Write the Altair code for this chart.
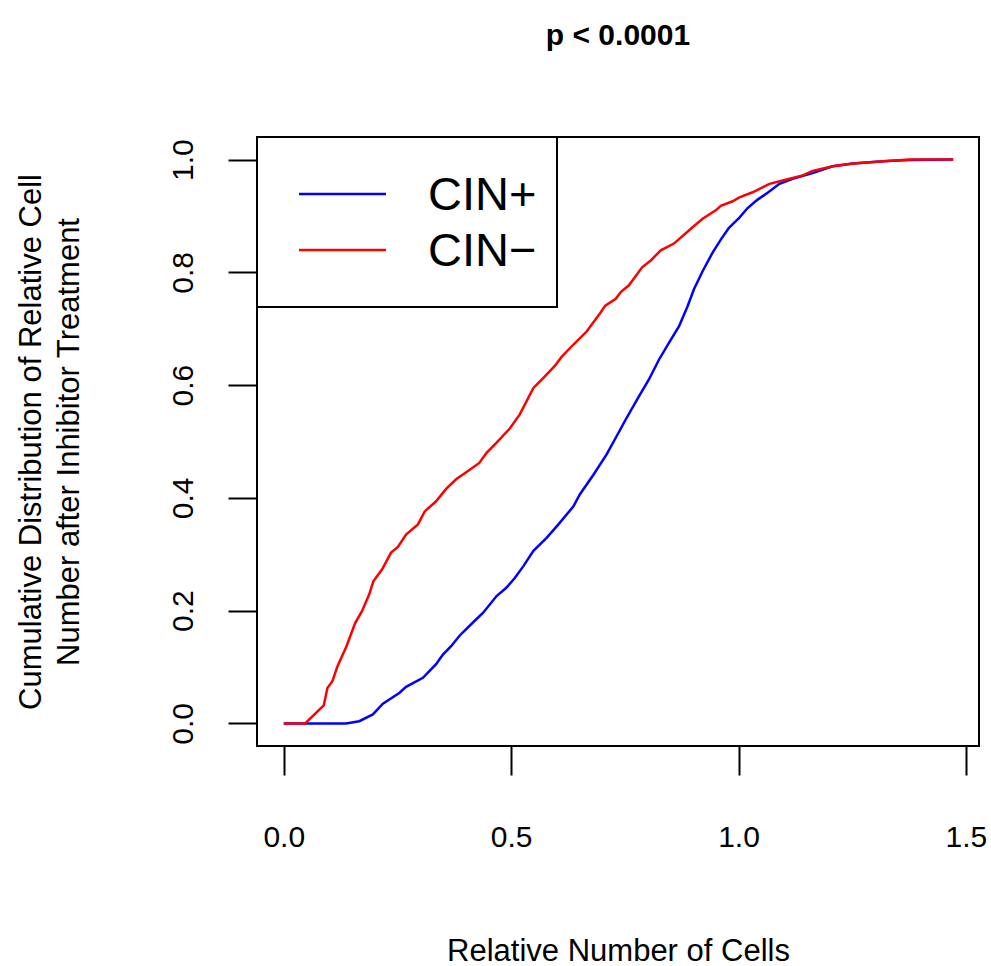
import altair as alt
import pandas as pd

# ---- data ----
series_names = ["CIN+", "CIN\u2212"]
series_colors = ["#0000FF", "#FF0000"]

cin_pos_x = [0.0, 0.137, 0.166, 0.196, 0.218, 0.254, 0.269, 0.306, 0.335, 0.350, 0.368, 0.387,
             0.416, 0.438, 0.468, 0.490, 0.508, 0.527, 0.549, 0.578, 0.604, 0.637, 0.651, 0.681,
             0.710, 0.731, 0.752, 0.781, 0.803, 0.825, 0.847, 0.869, 0.888, 0.902, 0.921, 0.943,
             0.961, 0.979, 1.002, 1.020, 1.042, 1.064, 1.090, 1.119, 1.163, 1.207, 1.252, 1.318,
             1.377, 1.472]
cin_pos_y = [0.0, 0.0, 0.004, 0.016, 0.035, 0.054, 0.065, 0.081, 0.105, 0.122, 0.137, 0.156,
             0.179, 0.196, 0.226, 0.241, 0.258, 0.279, 0.306, 0.329, 0.353, 0.385, 0.406, 0.441,
             0.477, 0.508, 0.539, 0.580, 0.610, 0.645, 0.675, 0.704, 0.740, 0.770, 0.802, 0.835,
             0.858, 0.879, 0.897, 0.914, 0.929, 0.941, 0.957, 0.966, 0.976, 0.988, 0.993, 0.997,
             0.999, 1.0]

cin_neg_x = [0.0, 0.047, 0.088, 0.096, 0.107, 0.118, 0.138, 0.157, 0.172, 0.188, 0.197, 0.216,
             0.236, 0.251, 0.269, 0.295, 0.310, 0.335, 0.357, 0.379, 0.409, 0.430, 0.446, 0.468,
             0.497, 0.519, 0.549, 0.571, 0.596, 0.611, 0.637, 0.666, 0.696, 0.707, 0.730, 0.741,
             0.759, 0.770, 0.788, 0.807, 0.829, 0.858, 0.899, 0.921, 0.950, 0.961, 0.987, 1.002,
             1.031, 1.068, 1.097, 1.141, 1.163, 1.207, 1.252, 1.318, 1.377, 1.472]
cin_neg_y = [0.0, 0.0, 0.032, 0.063, 0.075, 0.101, 0.137, 0.178, 0.199, 0.229, 0.252, 0.273,
             0.303, 0.313, 0.335, 0.353, 0.376, 0.394, 0.416, 0.433, 0.450, 0.462, 0.480, 0.498,
             0.523, 0.548, 0.595, 0.613, 0.634, 0.650, 0.672, 0.695, 0.728, 0.741, 0.753, 0.765,
             0.777, 0.789, 0.809, 0.821, 0.839, 0.851, 0.880, 0.895, 0.910, 0.918, 0.926, 0.933,
             0.942, 0.957, 0.963, 0.972, 0.980, 0.988, 0.993, 0.997, 1.0, 1.0]

x_ticks = [0.0, 0.5, 1.0, 1.5]
y_ticks = [0.0, 0.2, 0.4, 0.6, 0.8, 1.0]

title_text = "p < 0.0001"
x_title = "Relative Number of Cells"
y_title = ["Cumulative Distribution of Relative Cell", "Number after Inhibitor Treatment"]

FONT = "Liberation Sans"
W, H = 722, 609

df_pos = pd.DataFrame({"x": cin_pos_x, "y": cin_pos_y, "s": series_names[0]})
df_neg = pd.DataFrame({"x": cin_neg_x, "y": cin_neg_y, "s": series_names[1]})

xscale = alt.Scale(domain=[-0.0588, 1.5288], nice=False, zero=False)
yscale = alt.Scale(domain=[-0.04, 1.04], nice=False, zero=False)

xaxis = alt.Axis(values=x_ticks, format=".1f", title=x_title, grid=False, domain=False,
                 tickSize=29, tickWidth=2, tickColor="black", labelFontSize=30,
                 labelFont=FONT, labelColor="black", labelPadding=47, labelFlush=False,
                 labelBaseline="top", titleFont=FONT, titleFontSize=31, titleFontWeight="normal",
                 titleColor="black", titleX=361, titleY=214, titleBaseline="alphabetic",
                 titleAlign="center")
yaxis = alt.Axis(values=y_ticks, format=".1f", title=y_title, grid=False, domain=False,
                 tickSize=29, tickWidth=2, tickColor="black", labelFontSize=30,
                 labelFont=FONT, labelColor="black", labelPadding=36, labelAngle=270,
                 labelAlign="center", labelBaseline="alphabetic", labelFlush=False,
                 titleFont=FONT, titleFontSize=31, titleFontWeight="normal", titleColor="black",
                 titleAngle=270, titleAlign="center", titleBaseline="top", titleX=-241,
                 titleY=H / 2, titleLineHeight=38)

line_pos = alt.Chart(df_pos).mark_line(color=series_colors[0], strokeWidth=2.5).encode(
    x=alt.X("x:Q", scale=xscale, axis=xaxis),
    y=alt.Y("y:Q", scale=yscale, axis=yaxis),
)
line_neg = alt.Chart(df_neg).mark_line(color=series_colors[1], strokeWidth=2.5).encode(
    x=alt.X("x:Q", scale=xscale),
    y=alt.Y("y:Q", scale=yscale),
)

# ---- legend box (layout only) ----
leg_df = pd.DataFrame({"s": series_names, "c": series_colors})
leg_box = alt.Chart(leg_df.head(1)).mark_rect(fill="white", stroke="black", strokeWidth=2).encode(
    x=alt.value(0), x2=alt.value(300), y=alt.value(0), y2=alt.value(170))
leg_layers = [leg_box]
for i, (name, col) in enumerate(zip(series_names, series_colors)):
    yy = 57 + 56 * i
    leg_layers.append(
        alt.Chart(leg_df.head(1)).mark_rule(color=col, strokeWidth=2.5).encode(
            x=alt.value(42), x2=alt.value(129), y=alt.value(yy)))
    leg_layers.append(
        alt.Chart(leg_df.head(1)).mark_text(text=name, fontSize=47, font=FONT, align="left",
                                           baseline="middle", color="black").encode(
            x=alt.value(171), y=alt.value(yy + 2)))

chart = alt.layer(line_pos, line_neg, *leg_layers).properties(
    width=W, height=H,
    title=alt.TitleParams(title_text, fontSize=30, fontWeight="bold", font=FONT,
                          anchor="middle", baseline="alphabetic", offset=61, color="black"),
    autosize=alt.AutoSizeParams(type="none"),
    padding={"left": 257, "top": 137, "right": 12, "bottom": 220},
).configure(background="white").configure_view(stroke="black", strokeWidth=2)

chart.save("out.html", embed_options={"renderer": "svg", "actions": False})
